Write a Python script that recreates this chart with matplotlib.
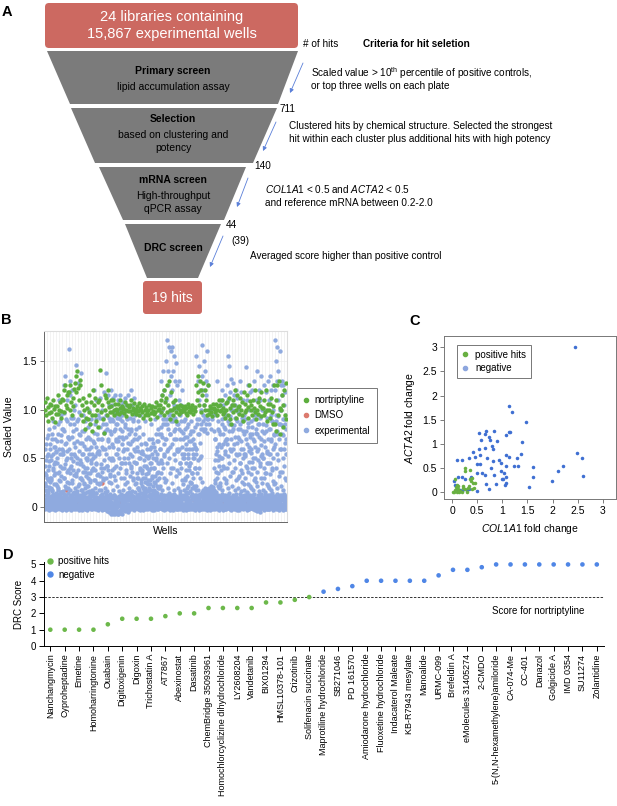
import numpy as np
import matplotlib.pyplot as plt
from matplotlib.patches import Polygon, FancyBboxPatch
from matplotlib.lines import Line2D

plt.rcParams['font.family'] = ['Liberation Sans', 'DejaVu Sans']
plt.rcParams['mathtext.fontset'] = 'custom'
plt.rcParams['mathtext.rm'] = 'Liberation Sans'
plt.rcParams['mathtext.it'] = 'Liberation Sans:italic'
plt.rcParams['mathtext.bf'] = 'Liberation Sans:bold'

# ---------------- data ----------------
# panel B: scaled values per plate (hundredths)
# upper part of each plate
exp_plates = [
    "2 35 -1 60 8 22 0 48 5 71 12 1 30 -2 55 9 17 80 3 42 6 26 0 65",
    "0 28 5 52 -2 75 10 18 3 40 88 1 62 7 33 -1 12 46 4 70 9 24 2 57",
    "3 45 -1 68 9 20 1 85 6 36 110 0 55 11 27 -2 74 4 95 15 40 7 60 2",
    "1 58 -2 80 7 30 125 4 97 12 44 0 135 9 66 3 20 110 -1 50 6 88 14 38 2 72",
    "162 5 70 0 115 10 40 130 3 92 -1 55 8 25 120 2 78 13 47 1 100 6 33 85",
    "4 62 -1 105 9 35 146 2 88 12 50 0 128 7 22 75 3 98 -2 44 11 66 1 138",
    "2 30 -1 55 8 18 78 0 42 11 95 4 25 63 1 88 6 36 -2 50 10 70 3 15",
    "0 48 6 22 82 -1 35 9 60 2 100 12 28 70 4 45 -2 90 7 15 55 1 38 3",
    "5 40 -1 66 10 120 2 52 8 28 85 0 110 14 45 3 75 -2 33 9 95 1 58 6",
    "3 55 0 92 8 25 112 -1 70 12 40 100 5 62 1 85 10 30 -2 118 6 48 2 78",
    "1 60 -2 95 7 138 4 80 11 42 115 0 70 9 105 3 50 -1 88 13 32 6 120 2",
    "-6 75 2 105 -3 50 9 112 0 88 -7 62 12 98 4 40 -2 115 7 80 1 55 10 100 -5 68 3 92",
    "0 85 -7 110 5 60 -4 100 10 72 2 115 -6 90 8 45 1 105 -2 78 12 95 3 65 -1 108",
    "4 70 -1 98 9 50 1 112 6 82 -2 35 11 105 2 90 0 60 7 115 3 75 -3 45",
    "2 65 -1 92 8 40 120 0 78 11 105 4 52 -2 88 6 30 112 1 70 10 95 3 58",
    "0 45 7 80 -1 30 100 3 62 10 20 88 1 50 -2 72 8 38 5 95 2 56 -1 25",
    "3 35 -1 58 9 20 1 75 6 42 -2 15 88 4 30 11 52 0 65 7 25 2 40",
    "1 28 6 50 -1 18 70 3 38 10 60 0 24 85 5 45 -2 32 8 55 2 15 4 66",
    "4 40 -1 62 9 25 90 2 48 12 75 0 35 6 55 -2 20 80 3 68 10 30 1 45",
    "2 60 -1 95 8 130 4 75 11 45 115 0 100 6 85 -2 140 3 55 10 120 1 70 5 90",
    "0 110 6 150 -1 85 172 3 125 9 60 140 2 98 -2 165 7 115 1 75 12 135 4 95 160",
    "5 120 -1 165 8 90 140 2 105 11 70 155 0 130 6 80 -2 148 3 100 10 125 1 60",
    "1 85 -2 110 7 60 130 4 95 10 45 105 0 78 6 120 -1 55 3 100 9 70 2 88",
    "3 55 -1 80 8 30 90 1 65 11 45 0 72 6 20 85 -2 50 9 38 2 60 4 75",
    "0 45 6 78 -1 25 88 3 60 10 35 1 70 -2 50 8 20 65 2 82 5 40 12 55",
    "2 60 155 -1 90 7 130 3 75 10 145 0 110 6 50 -2 120 4 85 11 100 1 135",
    "0 167 5 120 -1 95 150 3 105 9 140 1 80 -2 130 6 115 2 160 11 90 4 125",
    "3 12 -1 85 8 15 0 100 6 18 -2 80 10 5 90 2 14 7 1 95 4 11 -1 78",
    "1 40 -1 70 8 25 95 3 55 11 130 0 62 6 35 88 -2 48 9 78 2 20 5 105",
    "4 75 -1 110 9 50 120 2 90 12 65 0 105 7 40 98 -2 82 3 115 10 58 1 70",
    "0 95 6 125 -1 70 155 3 110 10 85 145 1 60 -2 118 5 100 2 132 8 78 4 105",
    "3 100 -1 128 8 80 115 2 65 11 105 0 92 6 120 -2 55 4 88 9 112 1 72 5 98",
    "1 70 -2 100 7 45 130 3 85 10 60 118 0 92 5 35 -1 110 2 78 9 55 4 95",
    "4 55 -1 90 8 144 2 70 11 110 0 40 125 6 82 -2 100 3 62 10 118 1 75",
    "2 60 -1 88 7 40 120 3 75 10 100 0 50 130 5 68 -2 95 1 30 9 110 4 80",
    "0 75 6 140 -1 95 3 60 10 120 1 85 -2 110 5 45 135 2 70 8 100 4 55",
    "3 50 -1 85 8 125 1 68 11 100 0 35 118 6 78 -2 92 2 58 9 130 4 45",
    "1 80 -2 110 7 55 135 3 95 10 70 120 0 88 5 40 -1 125 2 100 9 62 4 75",
    "0 120 6 172 -1 95 150 3 130 9 75 165 1 110 -2 140 5 85 2 160 10 100 4 125",
    "3 100 -1 130 8 75 115 2 90 11 125 0 60 105 6 85 -2 118 4 70 9 95 1 55",
]
# middle band of each plate
exp_plates_mid = [
    "18 42 25 65 33 15 52 28 74 38 21 47 60 30", "20 48 30 70 16 55 38 82 24 44 62 35 14 58",
    "22 50 35 75 18 60 28 88 42 15 68 32 55 80", "16 55 30 78 40 22 65 48 90 26 58 36 72 20",
    "25 60 35 85 18 50 42 72 28 92 38 15 66 55", "20 52 32 80 45 16 68 38 90 24 58 30 74 48",
    "18 45 28 66 36 14 55 24 78 40 20 60 32 50", "22 40 30 72 16 55 35 85 26 48 62 18 38 68",
    "15 50 28 76 38 20 62 44 90 25 56 34 70 18", "24 58 32 82 44 18 70 36 92 28 60 40 76 15",
    "20 55 30 85 42 16 68 38 92 26 62 34 78 48", "25 65 38 90 48 18 78 32 95 28 70 42 85 55",
    "22 68 35 92 50 16 80 40 95 30 72 45 88 58", "18 60 30 85 45 24 72 38 92 26 66 50 80 15",
    "20 55 32 80 42 16 68 36 90 28 60 46 75 24", "15 45 25 70 35 20 58 30 82 18 50 40 65 28",
    "14 38 22 55 30 18 48 26 66 20 42 34 60 16", "16 35 24 52 20 45 28 62 18 40 30 70 22 50",
    "18 40 26 58 32 15 50 22 68 28 45 36 75 20", "22 60 35 82 48 18 72 40 90 30 65 52 85 26",
    "28 70 45 90 58 20 80 50 95 35 75 62 88 40", "25 65 40 88 55 18 78 48 92 32 70 58 85 38",
    "20 58 35 80 45 16 70 40 88 28 62 50 76 24", "18 50 28 72 38 15 60 32 82 22 55 42 68 26",
    "16 45 25 68 35 20 55 30 78 22 50 40 62 18", "22 60 35 85 48 18 75 40 90 30 66 52 80 26",
    "15 80 18 88 14 78 20 92 16 85 12 76 19 90", "14 20 12 18 16 13 22 15 19 17 12 21 14 16",
    "18 48 28 70 36 15 58 30 80 22 52 42 65 25", "22 62 38 85 50 18 75 42 92 30 68 55 80 28",
    "25 65 40 88 52 20 78 45 94 32 70 58 84 36", "22 60 36 84 48 18 72 40 90 28 66 54 80 30",
    "20 55 32 80 45 16 68 38 88 26 60 50 75 24", "18 52 30 78 42 15 65 36 86 24 58 46 72 22",
    "20 56 34 82 46 18 70 40 90 28 62 50 76 26", "22 58 36 85 48 16 72 42 92 30 64 52 78 25",
    "18 50 30 76 40 15 62 35 84 24 56 45 70 22", "20 55 34 80 45 17 68 38 88 27 60 50 74 24",
    "25 65 40 88 55 20 78 48 94 32 70 60 85 36", "22 60 36 84 50 18 74 42 90 30 66 55 80 28",
]
# dense band near zero
exp_plates_base = [
    "0 7 -2 12 3 9 -1 5 14 1 10 -3 6 2", "4 -1 11 1 8 -2 13 3 6 0 9 -3 5 12",
    "-2 6 1 13 -1 8 3 11 0 5 14 2 9 -3", "2 10 -1 5 13 0 7 -3 11 4 1 9 -2 6",
    "-1 8 3 12 0 6 -3 10 2 14 5 -2 9 1", "5 0 11 -2 7 2 13 -1 9 3 -3 6 12 1",
    "1 9 -3 6 12 0 4 -1 10 3 14 -2 7 2", "-3 5 10 1 7 -1 13 2 8 0 11 4 -2 6",
    "3 12 0 8 -2 6 10 1 14 -1 5 9 -3 2", "0 6 -1 11 4 9 -3 13 2 7 -2 10 1 5",
    "-2 9 2 13 -4 6 0 11 -5 8 3 12 -1 5", "-7 3 -5 10 -6 1 12 -4 6 -7 8 -3 4 -6",
    "-6 5 -7 2 11 -4 8 -5 13 0 -7 6 -3 9", "-3 7 1 12 -4 5 9 -2 14 0 8 -5 3 11",
    "1 10 -2 6 13 0 4 -1 11 3 8 -3 7 2", "4 -1 9 2 12 -2 7 0 13 5 -3 10 1 6",
    "-1 8 2 12 -3 5 10 0 14 3 -2 7 11 1", "2 11 -2 6 0 13 4 -1 9 1 7 -3 12 5",
    "0 5 -3 10 3 12 -1 7 1 14 -2 8 4 11", "3 9 -1 13 0 6 -2 11 2 8 -3 12 5 1",
    "-2 7 1 12 -1 4 10 0 14 3 8 -3 6 11", "1 12 -3 5 9 0 13 2 -1 7 11 -2 4 8",
    "5 -1 10 2 13 -2 6 0 11 3 8 -3 12 1", "-1 9 3 12 0 6 -3 10 1 14 4 -2 7 2",
    "2 6 -2 11 1 13 -1 8 3 10 0 -3 5 12", "0 10 -1 7 12 2 -3 9 4 13 1 -2 6 11",
    "3 -2 8 1 12 -1 6 14 0 10 2 -3 7 11", "-1 5 12 0 9 -3 7 2 13 1 10 -2 4 8",
    "1 8 -2 13 3 10 -1 6 0 12 4 -3 9 2", "4 11 -1 7 0 13 2 -3 9 1 5 12 -2 8",
    "-2 6 1 12 -1 9 3 14 0 7 -3 10 2 5", "0 12 3 -2 8 1 11 -1 6 13 2 -3 9 4",
    "2 9 -3 5 13 0 7 -1 11 3 8 -2 12 1", "-1 7 2 11 0 14 -3 6 4 10 1 -2 9 12",
    "3 -1 10 1 6 12 -2 8 0 13 4 -3 7 2", "-4 8 0 12 -2 5 11 -5 9 2 13 -1 6 3",
    "1 10 -3 7 2 13 -1 5 11 0 8 -2 12 4", "-2 6 3 12 -1 9 0 14 2 7 -3 11 1 5",
    "0 11 -2 8 4 13 -1 6 1 10 -3 12 3 7", "2 7 -1 12 0 9 -3 13 3 6 1 11 -2 5",
]
nort_plates = [
    "100 108 95 112 88 103 97 106", "98 105 92 110 101 87 104 96",
    "104 96 115 100 108 92 99 111", "110 120 98 125 105 115 102 118",
    "118 100 125 108 95 112 104 121", "128 135 118 140 122 110 125 131",
    "95 105 88 112 100 80 92 108", "102 90 115 98 85 108 78 95",
    "120 105 95 112 88 100 82 108", "110 141 98 125 105 90 76 115",
    "100 112 95 108 120 103 98 110", "104 98 110 100 95 106 101 97",
    "100 106 96 102 110 98 104 101", "102 97 108 100 94 105 99 103",
    "105 99 110 96 102 100 107 98", "101 96 104 99 107 95 102 100",
    "98 104 92 106 100 95 103 97", "100 95 105 90 102 97 104 99",
    "96 103 98 108 93 100 105 101", "105 110 98 115 102 120 95 108",
    "112 98 125 105 130 100 90 118", "100 108 95 102 110 98 88 104",
    "102 96 105 100 98 104 101 99", "100 104 97 102 95 106 99 103",
    "98 102 100 105 96 101 103 99", "125 110 135 118 105 130 98 120",
    "115 128 105 120 100 110 95 125", "100 96 104 98 102 94 106 101",
    "102 98 106 100 95 104 110 99", "105 100 110 96 102 98 92 107",
    "100 108 95 112 102 90 85 105", "110 98 105 120 100 92 115 103",
    "104 96 112 100 108 95 88 118", "98 106 100 115 92 103 125 109",
    "105 100 95 110 102 98 120 90", "100 108 96 112 104 118 94 102",
    "102 95 110 98 120 100 88 106", "100 106 92 112 98 104 85 125",
    "85 110 78 125 95 130 102 75", "100 115 82 105 120 95 128 90",
]
dmso_plate = [1, 3, 5, 9, 12, 15, 17, 21, 24, 26, 29, 31, 33, 35, 36, 38]
dmso_value = [0.10, 0.18, 0.03, 0.25, 0.05, 0.12, 0.12, 0.02, 0.08, 0.10,
              0.06, 0.08, 0.04, 0.12, 0.02, 0.06]

# panel C: fold changes
neg_col1a1 = [2.44, 1.14, 1.20, 1.47, 0.54, 0.68, 0.83, 0.65, 0.74, 0.75, 0.57, 0.90,
              1.14, 1.16, 1.08, 1.40, 0.53, 0.65, 0.80, 0.82, 0.42, 0.10, 0.20, 0.33,
              0.45, 0.55, 1.08, 1.14, 1.30, 1.38, 0.93, 0.50, 0.55, 0.70, 0.82, 1.23,
              0.97, 1.08, 0.78, 1.60, 0.66, 0.84, 0.98, 1.04, 0.50, 0.60, 2.10, 2.21,
              2.49, 2.58, 2.60, 1.60, 1.08, 1.02, 1.00, 1.08, 0.88, 0.67, 0.74, 0.50,
              1.53, 1.99, 1.05, 0.20, 0.12, 0.25, 0.37, 0.38, 0.05, 0.03, 0.23, 0.29,
              0.15, 0.34, 0.09, 0.19, 1.31]
neg_acta2 = [3.01, 1.79, 1.65, 1.45, 1.22, 1.26, 1.27, 1.20, 1.14, 1.08, 1.08, 1.06,
             1.24, 1.24, 1.19, 1.04, 0.90, 0.91, 0.96, 0.89, 0.84, 0.67, 0.67, 0.70,
             0.72, 0.77, 0.76, 0.72, 0.71, 0.78, 0.66, 0.58, 0.58, 0.70, 0.65, 0.54,
             0.61, 0.53, 0.50, 0.51, 0.36, 0.36, 0.44, 0.39, 0.39, 0.39, 0.44, 0.53,
             0.81, 0.70, 0.34, 0.31, 0.32, 0.26, 0.26, 0.19, 0.17, 0.17, 0.06, 0.02,
             0.10, 0.23, 0.14, 0.32, 0.32, 0.28, 0.32, 0.29, 0.15, 0.22, 0.06, 0.05,
             0.05, 0.06, 0.06, 0.03, 0.54]
pos_col1a1 = [0.25, 0.25, 0.35, 0.05, 0.39, 0.42, 0.45, 0.38, 0.02, 0.05, 0.09, 0.12,
              0.15, 0.19, 0.22, 0.25, 0.29, 0.32, 0.40, 0.43, 0.09, 0.12, 0.21, 0.03,
              0.14, 0.07, 0.34, 0.36]
pos_acta2 = [0.50, 0.43, 0.46, 0.26, 0.29, 0.19, 0.19, 0.22, 0.01, 0.05, 0.01, 0.06,
             0.03, 0.00, 0.08, 0.06, 0.01, 0.08, 0.06, 0.08, 0.15, 0.12, 0.13, 0.00,
             0.00, 0.10, 0.12, 0.27]

# panel D: DRC scores
drc_names = ['Nanchangmycin', 'Cyproheptadine', 'Emetine', 'Homoharringtonine', 'Ouabain',
             'Digitoxigenin', 'Digoxin', 'Trichostatin A', 'AT7867', 'Abexinostat', 'Dasatinib',
             'ChemBridge 35093961', 'Homochlorcyclizine dihydrochloride', 'LY2608204',
             'Vandetanib', 'BIX01294', 'HMSL10378-101', 'Crizotinib', 'Solifenacin succinate',
             'Maprotiline hydrochloride', 'SB271046', 'PD 161570', 'Amiodarone hydrochloride',
             'Fluoxetine hydrochloride', 'Indacaterol Maleate', 'KB-R7943 mesylate', 'Manoalide',
             'URMC-099', 'Brefeldin A', 'eMolecules 31405274', '2-CMDO',
             '5-(N,N-hexamethylene)amiloride', 'CA-074-Me', 'CC-401', 'Danazol', 'Golgicide A',
             'IMD 0354', 'SU11274', 'Zolantidine']
drc_score = [1, 1, 1, 1, 1.33, 1.67, 1.67, 1.67, 1.83, 2, 2, 2.33, 2.33, 2.33, 2.33, 2.67, 2.67,
             2.83, 3, 3.33, 3.5, 3.67, 4, 4, 4, 4, 4, 4.33, 4.67, 4.67, 4.83, 5, 5, 5, 5, 5, 5, 5, 5]
drc_positive = [True] * 19 + [False] * 20
nortriptyline_score = 3

# ---------------- figure ----------------
W, H = 617, 806
fig = plt.figure(figsize=(W / 100, H / 100), dpi=100)


def px_axes(x0, y0, x1, y1):
    return fig.add_axes([x0 / W, 1 - y1 / H, (x1 - x0) / W, (y1 - y0) / H])


def plate_points(strings):
    xs, ys = [], []
    for p, s in enumerate(strings):
        v = np.array(s.split(), float) / 100
        xs.append(p + (np.arange(len(v)) + 0.5) / len(v))
        ys.append(v)
    return np.concatenate(xs), np.concatenate(ys)


canvas = fig.add_axes([0, 0, 1, 1])
canvas.set_xlim(0, W)
canvas.set_ylim(H, 0)
canvas.axis('off')

# panel letters
for lab, x, y in [('A', 7, 12), ('B', 6, 320), ('C', 415, 321), ('D', 8, 555)]:
    canvas.text(x, y, lab, fontsize=10.5, fontweight='bold', ha='center', va='center')

# ---- panel A: funnel ----
red = '#cc6961'
grey = '#7b7b7b'
canvas.add_patch(FancyBboxPatch((45, 3), 253, 45, boxstyle='round,pad=0,rounding_size=4',
                                fc=red, ec='none'))
canvas.text(172, 17, '24 libraries containing', color='white', fontsize=10.5, ha='center', va='center')
canvas.text(172, 34, '15,867 experimental wells', color='white', fontsize=10.5, ha='center', va='center')

trapezoids = [
    [(47, 51), (298, 51), (278, 104), (70, 104)],
    [(71, 108), (277, 108), (253, 163), (95, 163)],
    [(99, 167), (246, 167), (224, 220), (123, 220)],
    [(125, 224), (221, 224), (198, 278), (147, 278)],
]
for pts in trapezoids:
    canvas.add_patch(Polygon(pts, closed=True, fc=grey, ec='none'))

canvas.add_patch(FancyBboxPatch((143, 281), 59, 33, boxstyle='round,pad=0,rounding_size=3',
                                fc=red, ec='none'))
canvas.text(172.5, 297.5, '19 hits', color='white', fontsize=10, ha='center', va='center')

fk = dict(fontsize=7.5, ha='center', va='center')
canvas.text(173, 71, 'Primary screen', fontweight='bold', **fk)
canvas.text(173, 87, 'lipid accumulation assay', **fk)
canvas.text(173, 119, 'Selection', fontweight='bold', **fk)
canvas.text(173, 135, 'based on clustering and', **fk)
canvas.text(173, 148, 'potency', **fk)
canvas.text(173, 180, 'mRNA screen', fontweight='bold', **fk)
canvas.text(173, 196, 'High-throughput', **fk)
canvas.text(173, 209, 'qPCR assay', **fk)
canvas.text(173, 248, 'DRC screen', fontweight='bold', **fk)

tk = dict(fontsize=7.2, ha='left', va='center')
canvas.text(303, 44, '# of hits', **tk)
canvas.text(363, 44, 'Criteria for hit seletion', fontweight='bold', **tk)
canvas.text(280, 109, '711', **tk)
canvas.text(254, 166, '140', **tk)
canvas.text(226, 225, '44', **tk)
canvas.text(231, 241, '(39)', **tk)
canvas.text(311, 73, r'Scaled value > 10$^{\rm th}$ percentile of positive controls,', **tk)
canvas.text(311, 86, 'or top three wells on each plate', **tk)
canvas.text(289, 126, 'Clustered hits by chemical structure. Selected the strongest', **tk)
canvas.text(289, 139, 'hit within each cluster plus additional hits with high potency', **tk)
canvas.text(265, 189, r'$\mathit{COL1A1}$ < 0.5 and $\mathit{ACTA2}$ < 0.5', **tk)
canvas.text(265, 203, 'and reference mRNA between 0.2-2.0', **tk)
canvas.text(250, 256, 'Averaged score higher than positive control', **tk)

arrows = [((303, 63), (290, 93)), ((276, 122), (263, 151)),
          ((248, 178), (237, 207)), ((223, 236), (210, 267))]
for (x0, y0), (x1, y1) in arrows:
    canvas.annotate('', xy=(x1, y1), xytext=(x0, y0),
                    arrowprops=dict(arrowstyle='-|>', color='#5a7fd8', lw=0.6,
                                    mutation_scale=6, shrinkA=0, shrinkB=0))

# ---- panel B ----
b_blue = '#8faadf'
b_green = '#5dae3e'
b_red = '#dc7a6e'
msz = 10
axB = px_axes(44, 331, 287, 522)
# DMSO sits under the experimental wells, only a few peek through
axB.scatter(np.array(dmso_plate) + 0.5, dmso_value, s=msz, color=b_red, linewidths=0, zorder=1.4)
for group in (exp_plates_base, exp_plates_mid, exp_plates):
    gx, gy = plate_points(group)
    axB.scatter(gx, gy, s=msz, color=b_blue, linewidths=0, zorder=1.5)
nx, ny = plate_points(nort_plates)
axB.scatter(nx, ny, s=msz, color=b_green, linewidths=0, zorder=4)
axB.set_xlim(-0.05, len(exp_plates) + 0.05)
axB.set_ylim(-0.154, 1.81)
axB.set_yticks([0, 0.5, 1.0, 1.5])
axB.set_yticklabels(['0', '0.5', '1.0', '1.5'], fontsize=7.5)
axB.set_xticks(np.arange(0, len(exp_plates) + 0.01, 0.5))
axB.tick_params(axis='x', length=0, labelbottom=False)
axB.tick_params(axis='y', length=3, width=0.6, color='#666666', pad=2)
axB.grid(True, color='#eeeeee', lw=0.5, zorder=0)
axB.set_axisbelow(True)
for side in ['top', 'right']:
    axB.spines[side].set_color('#dddddd')
for side in ['left', 'bottom']:
    axB.spines[side].set_color('#666666')
    axB.spines[side].set_linewidth(0.7)
axB.set_ylabel('Scaled Value', fontsize=7.5, labelpad=6)
axB.set_xlabel('Wells', fontsize=7.5, labelpad=3)
hB = [Line2D([], [], marker='o', ls='none', ms=3, color=c, label=l)
      for c, l in [(b_green, 'nortriptyline'), (b_red, 'DMSO'), (b_blue, 'experimental')]]
legB = axB.legend(handles=hB, loc='upper left', bbox_to_anchor=(1.04, 0.70), borderaxespad=0,
                  fontsize=7, frameon=True, fancybox=False, edgecolor='#555555',
                  handlelength=0.6, handletextpad=0.5, labelspacing=0.55, borderpad=0.7)
legB.get_frame().set_linewidth(0.7)

# ---- panel C ----
c_blue = '#3f6fd2'
c_green = '#68b041'
axC = px_axes(444, 336, 616, 499)
axC.scatter(neg_col1a1, neg_acta2, s=6.5, color=c_blue, linewidths=0, zorder=2)
axC.scatter(pos_col1a1, pos_acta2, s=6.5, color=c_green, linewidths=0, zorder=3)
axC.set_xlim(-0.16, 3.26)
axC.set_ylim(-0.145, 3.236)
axC.set_xticks([0, 0.5, 1, 1.5, 2, 2.5, 3])
axC.set_xticklabels(['0', '0.5', '1', '1.5', '2', '2.5', '3'], fontsize=7.5)
axC.set_yticks([0, 0.5, 1, 1.5, 2, 2.5, 3])
axC.set_yticklabels(['0', '0.5', '1', '1.5', '2', '2.5', '3'], fontsize=7.5)
axC.tick_params(length=3, width=0.6, color='#666666', pad=2)
for sp in axC.spines.values():
    sp.set_color('#777777')
    sp.set_linewidth(0.7)
axC.set_xlabel(r'$\mathit{COL1A1}$ fold change', fontsize=7.5, labelpad=4)
axC.set_ylabel(r'$\mathit{ACTA2}$ fold change', fontsize=7.5, labelpad=4)
hC = [Line2D([], [], marker='o', ls='none', ms=3, color=c, label=l)
      for c, l in [(c_green, 'positive hits'), ('#8da6de', 'negative')]]
legC = axC.legend(handles=hC, loc='upper left', bbox_to_anchor=(0.074, 0.945), borderaxespad=0,
                  fontsize=7, frameon=True, fancybox=False, edgecolor='#555555',
                  handlelength=0.8, handletextpad=0.6, labelspacing=0.35, borderpad=0.5)
legC.get_frame().set_linewidth(0.7)

# ---- panel D ----
d_blue = '#4f86e6'
d_green = '#6cb84a'
axD = px_axes(43.7, 562, 604, 646)
xs = np.arange(len(drc_names))
cols = [d_green if hit else d_blue for hit in drc_positive]
axD.scatter(xs, drc_score, s=11, c=cols, linewidths=0, zorder=3, clip_on=False)
axD.axhline(nortriptyline_score, color='#333333', ls=(0, (2.5, 1.5)), lw=0.7, zorder=1)
axD.text(0.965, 0.42, 'Score for nortriptyline', transform=axD.transAxes, fontsize=7,
         ha='right', va='center')
axD.set_xlim(-0.46, len(drc_names) - 0.5)
axD.set_ylim(0, 5.15)
axD.set_yticks([0, 1, 2, 3, 4, 5])
axD.set_yticklabels(['0', '1', '2', '3', '4', '5'], fontsize=7)
axD.set_xticks(xs)
axD.set_xticklabels(drc_names, rotation=90, fontsize=6.5, va='top', ha='center')
axD.tick_params(length=3.5, width=0.7, pad=2)
for side in ['top', 'right']:
    axD.spines[side].set_visible(False)
for side in ['left', 'bottom']:
    axD.spines[side].set_linewidth(0.7)
axD.set_ylabel('DRC Score', fontsize=7, labelpad=5)
hD = [Line2D([], [], marker='o', ls='none', ms=3.6, color=c, label=l)
      for c, l in [(d_green, 'positive hits'), (d_blue, 'negative')]]
axD.legend(handles=hD, loc='upper left', bbox_to_anchor=(0.0, 1.09), borderaxespad=0,
           fontsize=7, frameon=False, handlelength=0.8, handletextpad=0.5,
           labelspacing=0.35, borderpad=0.2)

fig.savefig('out.png', dpi=100)
